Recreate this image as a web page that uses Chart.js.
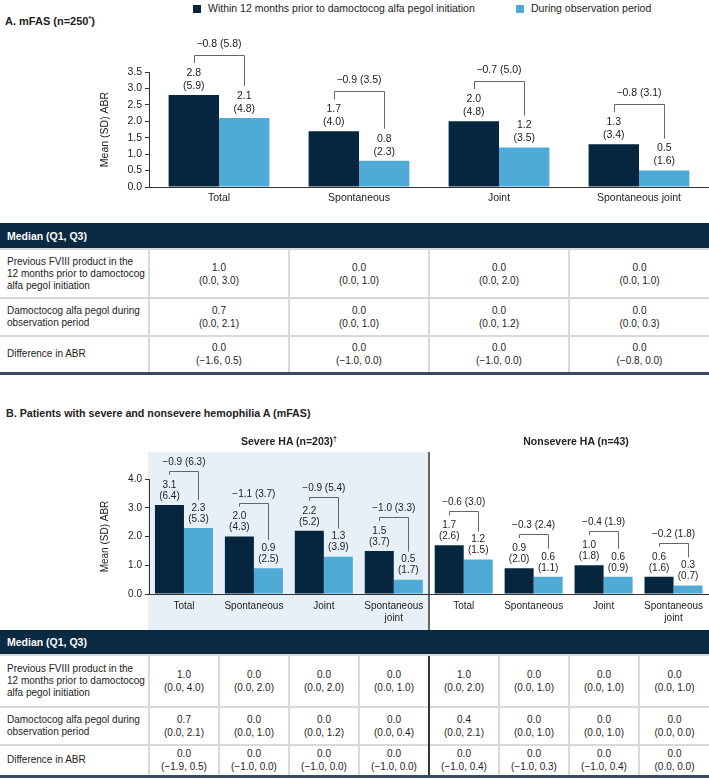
<!DOCTYPE html>
<html>
<head>
<meta charset="utf-8">
<script src="https://cdn.jsdelivr.net/npm/chart.js@4.4.1/dist/chart.umd.min.js"></script>
<style>
  body { margin: 0; background: #fff; font-family: "Liberation Sans", Arial, sans-serif; color: #222; }
  #page { position: relative; width: 709px; height: 779px; overflow: hidden; }
  .abs { position: absolute; white-space: nowrap; }
  .legend { top: 1px; font-size: 10.5px; line-height: 14px; }
  .sq { display: inline-block; width: 8px; height: 8px; margin-right: 7px; vertical-align: -0.5px; }
  .title { font-size: 10.5px; font-weight: bold; line-height: 14px; }
  sup { font-size: 7px; vertical-align: 4px; line-height: 0; }
  canvas { position: absolute; left: 0; }
  table.tbl { position: absolute; left: 0; width: 709px; border-collapse: collapse; table-layout: fixed; font-size: 10px; }
  .tbl th { background: #0a2a44; color: #fff; text-align: left; font-weight: bold; font-size: 10.5px; padding: 0 7px; }
  .tbl td { border-top: 2px solid #d9d9d9; border-left: 2px solid #d9d9d9; text-align: center; vertical-align: middle; line-height: 13px; padding: 0; white-space: nowrap; }
  .tbl td.lbl { text-align: left; padding-left: 7px; border-left: none; line-height: 12px; }
  .tbl td.split { border-left: 2px solid #333; }
  .tbl tr.last td { border-bottom: 3px solid #3a4a60; }
</style>
</head>
<body>
<div id="page">
  <div class="abs legend" style="left:193px"><span class="sq" style="background:#06263f"></span>Within 12 months prior to damoctocog alfa pegol initiation</div>
  <div class="abs legend" style="left:516px"><span class="sq" style="background:#4faad5"></span>During observation period</div>
  <div class="abs title" style="left:5px; top:14px; font-size:11px">A. mFAS (n=250<sup>*</sup>)</div>
  <canvas id="chartA" width="709" height="180" style="top:30px"></canvas>
  <table class="tbl" id="tableA" style="top:223px"></table>

  <div class="abs title" style="left:6px; top:406px; font-size:10.7px">B. Patients with severe and nonsevere hemophilia A (mFAS)</div>
  <canvas id="chartB" width="709" height="200" style="top:430px"></canvas>
  <div class="abs title" style="left:149px; width:280px; text-align:center; top:434px">Severe HA (n=203)<sup>†</sup></div>
  <div class="abs title" style="left:436px; width:280px; text-align:center; top:434px">Nonsevere HA (n=43)</div>
  <table class="tbl" id="tableB" style="top:630px"></table>
</div>

<script>
const DARK = '#06263f';
const LIGHT = '#4faad5';
const SHADE = '#e7f0f6';
const FONT = '"Liberation Sans", Arial, sans-serif';

// Panel A: mFAS
const categoriesA = ['Total', 'Spontaneous', 'Joint', 'Spontaneous joint'];
const priorMeanA = [2.8, 1.7, 2.0, 1.3];
const priorSdA = [5.9, 4.0, 4.8, 3.4];
const obsMeanA = [2.1, 0.8, 1.2, 0.5];
const obsSdA = [4.8, 2.3, 3.5, 1.6];
const diffMeanA = [-0.8, -0.9, -0.7, -0.8];
const diffSdA = [5.8, 3.5, 5.0, 3.1];
const yTicksA = [0, 0.5, 1.0, 1.5, 2.0, 2.5, 3.0, 3.5];

// Panel B: severe (first 4) and nonsevere (last 4)
const categoriesB = ['Total', 'Spontaneous', 'Joint', ['Spontaneous', 'joint'],
                     'Total', 'Spontaneous', 'Joint', ['Spontaneous', 'joint']];
const priorMeanB = [3.1, 2.0, 2.2, 1.5, 1.7, 0.9, 1.0, 0.6];
const priorSdB = [6.4, 4.3, 5.2, 3.7, 2.6, 2.0, 1.8, 1.6];
const obsMeanB = [2.3, 0.9, 1.3, 0.5, 1.2, 0.6, 0.6, 0.3];
const obsSdB = [5.3, 2.5, 3.9, 1.7, 1.5, 1.1, 0.9, 0.7];
const diffMeanB = [-0.9, -1.1, -0.9, -1.0, -0.6, -0.3, -0.4, -0.2];
const diffSdB = [6.3, 3.7, 5.4, 3.3, 3.0, 2.4, 1.9, 1.8];
const yTicksB = [0, 1.0, 2.0, 3.0, 4.0];

const seriesNames = ['Within 12 months prior to damoctocog alfa pegol initiation', 'During observation period'];

// Median (Q1, Q3) tables
const rowLabels = [
  ['Previous FVIII product in the', '12 months prior to damoctocog', 'alfa pegol initiation'],
  ['Damoctocog alfa pegol during', 'observation period'],
  ['Difference in ABR']
];
const medPriorA = [1.0, 0.0, 0.0, 0.0];
const q1PriorA = [0.0, 0.0, 0.0, 0.0];
const q3PriorA = [3.0, 1.0, 2.0, 1.0];
const medObsA = [0.7, 0.0, 0.0, 0.0];
const q1ObsA = [0.0, 0.0, 0.0, 0.0];
const q3ObsA = [2.1, 1.0, 1.2, 0.3];
const medDiffA = [0.0, 0.0, 0.0, 0.0];
const q1DiffA = [-1.6, -1.0, -1.0, -0.8];
const q3DiffA = [0.5, 0.0, 0.0, 0.0];

const medPriorB = [1.0, 0.0, 0.0, 0.0, 1.0, 0.0, 0.0, 0.0];
const q1PriorB = [0.0, 0.0, 0.0, 0.0, 0.0, 0.0, 0.0, 0.0];
const q3PriorB = [4.0, 2.0, 2.0, 1.0, 2.0, 1.0, 1.0, 1.0];
const medObsB = [0.7, 0.0, 0.0, 0.0, 0.4, 0.0, 0.0, 0.0];
const q1ObsB = [0.0, 0.0, 0.0, 0.0, 0.0, 0.0, 0.0, 0.0];
const q3ObsB = [2.1, 1.0, 1.2, 0.4, 2.1, 1.0, 1.0, 0.0];
const medDiffB = [0.0, 0.0, 0.0, 0.0, 0.0, 0.0, 0.0, 0.0];
const q1DiffB = [-1.9, -1.0, -1.0, -1.0, -1.0, -1.0, -1.0, 0.0];
const q3DiffB = [0.5, 0.0, 0.0, 0.0, 0.4, 0.3, 0.4, 0.0];

function fmt(v) {
  return v < 0 ? '\u2212' + Math.abs(v).toFixed(1) : v.toFixed(1);
}

Chart.defaults.font.family = FONT;
Chart.defaults.color = '#222';

// value labels above bars plus the difference bracket
function makeAnnot(cfg) {
  return {
    id: 'annot',
    afterDatasetsDraw(chart) {
      const ctx = chart.ctx;
      const m0 = chart.getDatasetMeta(0);
      const m1 = chart.getDatasetMeta(1);
      ctx.save();
      ctx.font = cfg.fontSize + 'px ' + FONT;
      ctx.fillStyle = '#222';
      ctx.textAlign = 'center';
      ctx.textBaseline = 'middle';
      m0.data.forEach((b0, i) => {
        const b1 = m1.data[i];
        ctx.fillText(fmt(cfg.priorMean[i]), b0.x, b0.y - cfg.lab1);
        ctx.fillText('(' + cfg.priorSd[i].toFixed(1) + ')', b0.x, b0.y - cfg.lab2);
        ctx.fillText(fmt(cfg.obsMean[i]), b1.x, b1.y - cfg.lab1);
        ctx.fillText('(' + cfg.obsSd[i].toFixed(1) + ')', b1.x, b1.y - cfg.lab2);

        const by = Math.round(b0.y - cfg.bracket) + 0.5;
        const x0 = Math.round(b0.x) + 0.5;
        const x1 = Math.round(b1.x) + 0.5;
        ctx.strokeStyle = '#666';
        ctx.lineWidth = 1;
        ctx.beginPath();
        ctx.moveTo(x0, Math.max(b0.y - cfg.leftEnd, by + 3));
        ctx.lineTo(x0, by);
        ctx.lineTo(x1, by);
        ctx.lineTo(x1, Math.max(b1.y - cfg.rightEnd, by + 3));
        ctx.stroke();
        ctx.fillText(fmt(cfg.diffMean[i]) + ' (' + cfg.diffSd[i].toFixed(1) + ')', (b0.x + b1.x) / 2, by - cfg.textGap);
      });
      ctx.restore();
    }
  };
}

// shaded severe block and the divider between the two groups
const groupPlugin = {
  id: 'groups',
  beforeDraw(chart) {
    const { ctx, chartArea, scales: { x } } = chart;
    const mid = (x.getPixelForValue(3) + x.getPixelForValue(4)) / 2;
    ctx.save();
    ctx.fillStyle = SHADE;
    ctx.fillRect(chartArea.left - 1, 22, mid - chartArea.left + 1, chart.height - 22);
    ctx.restore();
  },
  afterDraw(chart) {
    const { ctx, scales: { x } } = chart;
    const mid = Math.round((x.getPixelForValue(3) + x.getPixelForValue(4)) / 2);
    ctx.save();
    ctx.strokeStyle = '#333';
    ctx.lineWidth = 1.5;
    ctx.beginPath();
    ctx.moveTo(mid, 22);
    ctx.lineTo(mid, chart.height);
    ctx.stroke();
    ctx.restore();
  }
};

function barChart(canvasId, labels, prior, obs, catPct, fontSize, yTicks, padTop, xHeight, tickPad, annot, extra) {
  return new Chart(document.getElementById(canvasId), {
    type: 'bar',
    data: {
      labels: labels,
      datasets: [
        { label: seriesNames[0], data: prior, backgroundColor: DARK, categoryPercentage: catPct, barPercentage: 1 },
        { label: seriesNames[1], data: obs, backgroundColor: LIGHT, categoryPercentage: catPct, barPercentage: 1 }
      ]
    },
    options: {
      responsive: false,
      animation: false,
      layout: { padding: { top: padTop, left: 95, right: 0, bottom: 0 } },
      plugins: { legend: { display: false }, tooltip: { enabled: false } },
      scales: {
        x: {
          grid: { display: false, drawTicks: false },
          border: { color: '#333', width: 1 },
          ticks: { font: { size: fontSize }, color: '#222', padding: tickPad, maxRotation: 0, autoSkip: false },
          afterFit: s => { s.height = xHeight; }
        },
        y: {
          min: yTicks[0],
          max: yTicks[yTicks.length - 1],
          afterBuildTicks: s => { s.ticks = yTicks.map(v => ({ value: v })); },
          ticks: { font: { size: fontSize }, color: '#222', padding: 3, callback: v => Number(v).toFixed(1) },
          grid: { drawOnChartArea: false, drawTicks: true, tickLength: 4, color: '#333' },
          border: { color: '#333', width: 1 },
          title: { display: true, text: 'Mean (SD) ABR', font: { size: fontSize }, color: '#222', padding: { top: 4, bottom: 4 } },
          afterFit: s => { s.width = 54; }
        }
      }
    },
    plugins: extra.concat([annot])
  });
}

barChart('chartA', categoriesA, priorMeanA, obsMeanA, 0.72, 10.5, yTicksA, 42, 23, 5,
  makeAnnot({ priorMean: priorMeanA, priorSd: priorSdA, obsMean: obsMeanA, obsSd: obsSdA,
              diffMean: diffMeanA, diffSd: diffSdA, fontSize: 10.5,
              lab1: 22, lab2: 9, bracket: 40, leftEnd: 32, rightEnd: 32, textGap: 11 }), []);

barChart('chartB', categoriesB, priorMeanB, obsMeanB, 0.83, 10, yTicksB, 49, 36, 6,
  makeAnnot({ priorMean: priorMeanB, priorSd: priorSdB, obsMean: obsMeanB, obsSd: obsSdB,
              diffMean: diffMeanB, diffSd: diffSdB, fontSize: 10,
              lab1: 20, lab2: 9, bracket: 34, leftEnd: 30, rightEnd: 28, textGap: 9 }), [groupPlugin]);

function buildTable(id, colWidth, rows, heights, splitAt) {
  const t = document.getElementById(id);
  const n = rows[0].med.length;
  let html = '<colgroup><col style="width:149px">';
  for (let i = 0; i < n; i++) html += '<col style="width:' + colWidth + 'px">';
  html += '</colgroup>';
  html += '<tr style="height:' + heights[0] + 'px"><th colspan="' + (n + 1) + '">Median (Q1, Q3)</th></tr>';
  rows.forEach((r, k) => {
    html += '<tr class="' + (k === rows.length - 1 ? 'last' : '') + '" style="height:' + heights[k + 1] + 'px">';
    html += '<td class="lbl">' + rowLabels[k].join('<br>') + '</td>';
    for (let i = 0; i < n; i++) {
      const cls = i === splitAt ? ' class="split"' : '';
      html += '<td' + cls + '>' + fmt(r.med[i]) + '<br>(' + fmt(r.q1[i]) + ', ' + fmt(r.q3[i]) + ')</td>';
    }
    html += '</tr>';
  });
  t.innerHTML = html;
}

buildTable('tableA', 140, [
  { med: medPriorA, q1: q1PriorA, q3: q3PriorA },
  { med: medObsA, q1: q1ObsA, q3: q3ObsA },
  { med: medDiffA, q1: q1DiffA, q3: q3DiffA }
], [26, 49, 38, 37], -1);

buildTable('tableB', 70, [
  { med: medPriorB, q1: q1PriorB, q3: q3PriorB },
  { med: medObsB, q1: q1ObsB, q3: q3ObsB },
  { med: medDiffB, q1: q1DiffB, q3: q3DiffB }
], [25, 52, 38, 31], 4);
</script>
</body>
</html>
